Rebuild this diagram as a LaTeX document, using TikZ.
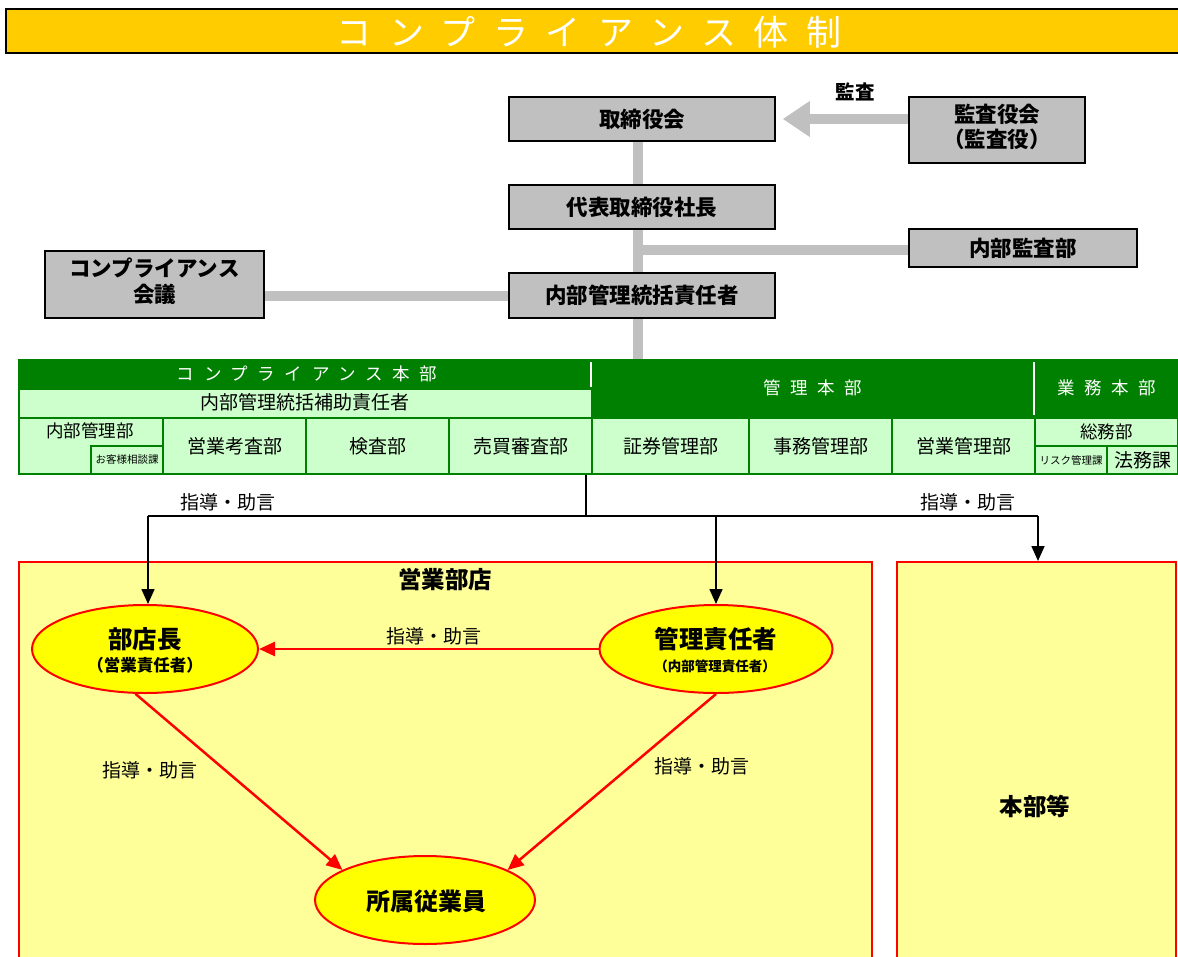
\documentclass[tikz,border=0pt]{standalone}
\usepackage{fontspec}
\setmainfont{Noto Sans CJK JP}
\usetikzlibrary{arrows.meta,shapes.geometric}
\definecolor{titley}{HTML}{FFCC00}
\definecolor{boxgray}{HTML}{C0C0C0}
\definecolor{dgreen}{HTML}{008000}
\definecolor{lgreen}{HTML}{CCFFCC}
\definecolor{pyellow}{HTML}{FFFF99}
\definecolor{eyellow}{HTML}{FFFF00}
\tikzset{
  graybox/.style={draw=black, line width=1.5pt, fill=boxgray, inner sep=0pt, align=center,
    font=\bfseries\fontsize{21.5}{25.5}\selectfont},
  boxtext/.style={inner sep=0pt, align=center},
  conn/.style={draw=boxgray, line width=10pt},
  grayarrow/.style={draw=boxgray, line width=10pt, -{Triangle[length=27pt 0 0,width=34pt 0 0]}},
  blk/.style={draw=black, line width=1.7pt},
  blkarrow/.style={draw=black, line width=1.7pt, -{Triangle[length=15pt 0 0,width=13pt 0 0]}},
  redarrow/.style={draw=red, line width=2.5pt, -{Triangle[length=16pt 0 0,width=14pt 0 0]}},
  oval/.style={ellipse, draw=red, line width=2pt, fill=eyellow, inner sep=0pt},
  ovaltext/.style={inner sep=0pt, font=\bfseries\fontsize{24.5}{28}\selectfont},
  lab/.style={font=\fontsize{19}{22}\selectfont, inner sep=0pt},
  dark/.style={draw=dgreen, line width=2pt, fill=dgreen, inner sep=0pt, anchor=north west, text=white},
  cell/.style={draw=dgreen, line width=2pt, fill=lgreen, inner sep=0pt, anchor=north west,
    font=\fontsize{19}{22}\selectfont},
  region/.style={draw=red, line width=2pt, fill=pyellow, inner sep=0pt, anchor=north west}
}
\begin{document}
\begin{tikzpicture}[x=1pt,y=-1pt]
\useasboundingbox (0,0) rectangle (1178,956);
\fill[white] (0,0) rectangle (1178,956);

% title
\node[draw=black, line width=2pt, fill=titley, minimum width=1185pt, minimum height=44pt,
  anchor=north west, inner sep=0pt] (titlebar) at (5,8) {};
\node[text=white, inner sep=0pt, font=\fontsize{35}{38}\selectfont\addfontfeature{LetterSpace=50}]
  (titletext) at (589,32) {コンプライアンス体制};

% gray connectors
\coordinate (trunk) at (638,141);
\draw[conn] (trunk) -- (638,359);
\draw[conn] (638,250) -- (909,250);
\draw[conn] (264,296) -- (509,296);

% top boxes
\node[graybox, minimum width=266pt, minimum height=44pt] (tori) at (642,119) {取締役会};
\node[graybox, minimum width=176pt, minimum height=66pt] (kansayaku) at (997,130) {};
\node[boxtext, font=\bfseries\fontsize{21.5}{25}\selectfont] (kansayakutext) at (997,126.5) {監査役会\\（監査役）};
\node[graybox, minimum width=266pt, minimum height=44pt] (daihyo) at (642,207) {代表取締役社長};
\node[graybox, minimum width=228pt, minimum height=38pt] (naibukansa) at (1023,248) {内部監査部};
\node[graybox, minimum width=266pt, minimum height=45pt] (tokatsu) at (642,295.5) {内部管理統括責任者};
\node[graybox, minimum width=219pt, minimum height=67pt] (kaigi) at (154.5,284.5) {};
\node[boxtext, font=\bfseries\fontsize{21.5}{26}\selectfont] (kaigitext) at (154.5,281) {コンプライアンス\\会議};

\draw[grayarrow] (kansayaku.west |- tori.east) -- ([xshift=7pt]tori.east);
\node[font=\bfseries\fontsize{19.5}{22}\selectfont, inner sep=0pt] (kansalab) at (855,92) {監査};

% green table
\node[dark, minimum width=573pt, minimum height=29pt] (cmphq) at (18,359) {};
\node[text=white, inner sep=0pt, font=\fontsize{17.5}{20}\selectfont\addfontfeature{LetterSpace=55}] (cmphqtext) at (307,373.5) {コンプライアンス本部};
\node[cell, minimum width=573pt, minimum height=29pt] (hojo) at (18,388) {};
\node[inner sep=0pt, font=\fontsize{19}{22}\selectfont] (hojotext) at (304.5,402.5) {内部管理統括補助責任者};
\node[dark, minimum width=443pt, minimum height=58pt] (kanrihonbu) at (591,359) {};
\node[text=white, inner sep=0pt, font=\fontsize{17.5}{20}\selectfont\addfontfeature{LetterSpace=55}] (kanritext) at (813,388) {管理本部};
\node[dark, minimum width=143pt, minimum height=58pt] (gyomuhonbu) at (1034,359) {};
\node[text=white, inner sep=0pt, font=\fontsize{17.5}{20}\selectfont\addfontfeature{LetterSpace=55}] (gyomutext) at (1107,388) {業務本部};
\draw[white, line width=1.5pt] (591,362) -- (591,387);
\draw[white, line width=1.5pt] (1034,362) -- (1034,415);

\node[cell, minimum width=144pt, minimum height=56pt] (naibukanri) at (18,417) {};
\node[inner sep=0pt, font=\fontsize{17.5}{20}\selectfont] (naibukanritext) at (90,431) {内部管理部};
\node[cell, minimum width=72pt, minimum height=28pt, font=\fontsize{10.5}{12}\selectfont] (okyaku) at (90,445) {お客様相談課};
\node[cell, minimum width=143pt, minimum height=56pt] (koza) at (162,417) {営業考査部};
\node[cell, minimum width=143pt, minimum height=56pt] (kensa) at (305,417) {検査部};
\node[cell, minimum width=143pt, minimum height=56pt] (baibai) at (448,417) {売買審査部};
\node[cell, minimum width=157pt, minimum height=56pt] (shoken) at (591,417) {証券管理部};
\node[cell, minimum width=143pt, minimum height=56pt] (jimu) at (748,417) {事務管理部};
\node[cell, minimum width=143pt, minimum height=56pt] (eigyokanri) at (891,417) {営業管理部};
\node[cell, minimum width=143pt, minimum height=28pt, font=\fontsize{17.5}{20}\selectfont] (somu) at (1034,417) {総務部};
\node[cell, minimum width=72pt, minimum height=28pt, font=\fontsize{10.5}{12}\selectfont] (risk) at (1034,445) {リスク管理課};
\node[cell, minimum width=71pt, minimum height=28pt, font=\fontsize{19}{21}\selectfont] (homu) at (1106,445) {法務課};

% regions
\node[region, minimum width=853pt, minimum height=420pt] (eigyobuten) at (18,561) {};
\node[font=\bfseries\fontsize{23.5}{26}\selectfont, inner sep=0pt] (eigyolab) at (445,580) {営業部店};
\node[region, minimum width=279pt, minimum height=420pt] (honbu) at (896,561) {};
\node[font=\bfseries\fontsize{23.5}{26}\selectfont, inner sep=0pt] (honbulab) at (1035,806) {本部等};

% ellipses
\node[oval, minimum width=226pt, minimum height=88pt] (bucho) at (145,649) {};
\node[ovaltext] (buchotext) at (145,639) {部店長};
\node[inner sep=0pt, font=\bfseries\fontsize{16.5}{19}\selectfont] (buchosub) at (145,665) {（営業責任者）};
\node[oval, minimum width=233pt, minimum height=88pt] (kanri) at (716,649) {};
\node[ovaltext] (kanritext2) at (716,639) {管理責任者};
\node[inner sep=0pt, font=\bfseries\fontsize{13.5}{16}\selectfont] (kanrisub) at (715,666) {（内部管理責任者）};
\node[oval, minimum width=220pt, minimum height=88pt] (shozoku) at (425,900) {};
\node[ovaltext, font=\bfseries\fontsize{24}{28}\selectfont] (shozokutext) at (426,901) {所属従業員};

% black connectors
\coordinate (hub) at (586,516);
\coordinate (j1) at (148,516);
\coordinate (j3) at (1038,516);
\draw[blk] (hub |- baibai.south) -- (hub);
\draw[blk] (j1) -- (j3);
\draw[blkarrow] (j1) -- (j1 |- bucho.north);
\draw[blkarrow] (kanri.north |- hub) -- (kanri.north);
\draw[blkarrow] (j3) -- (j3 |- honbu.north);
\node[lab] (l1) at (228,502) {指導・助言};
\node[lab] (l2) at (968,502) {指導・助言};

% red arrows
\draw[redarrow] (kanri.west) -- (bucho.east);
\draw[redarrow] (bucho.-102) -- (shozoku.160);
\draw[redarrow] (kanri.-90) -- (shozoku.20);
\node[lab] (l3) at (434,636) {指導・助言};
\node[lab] (l4) at (150,770) {指導・助言};
\node[lab] (l5) at (702,766) {指導・助言};
\end{tikzpicture}
\end{document}
